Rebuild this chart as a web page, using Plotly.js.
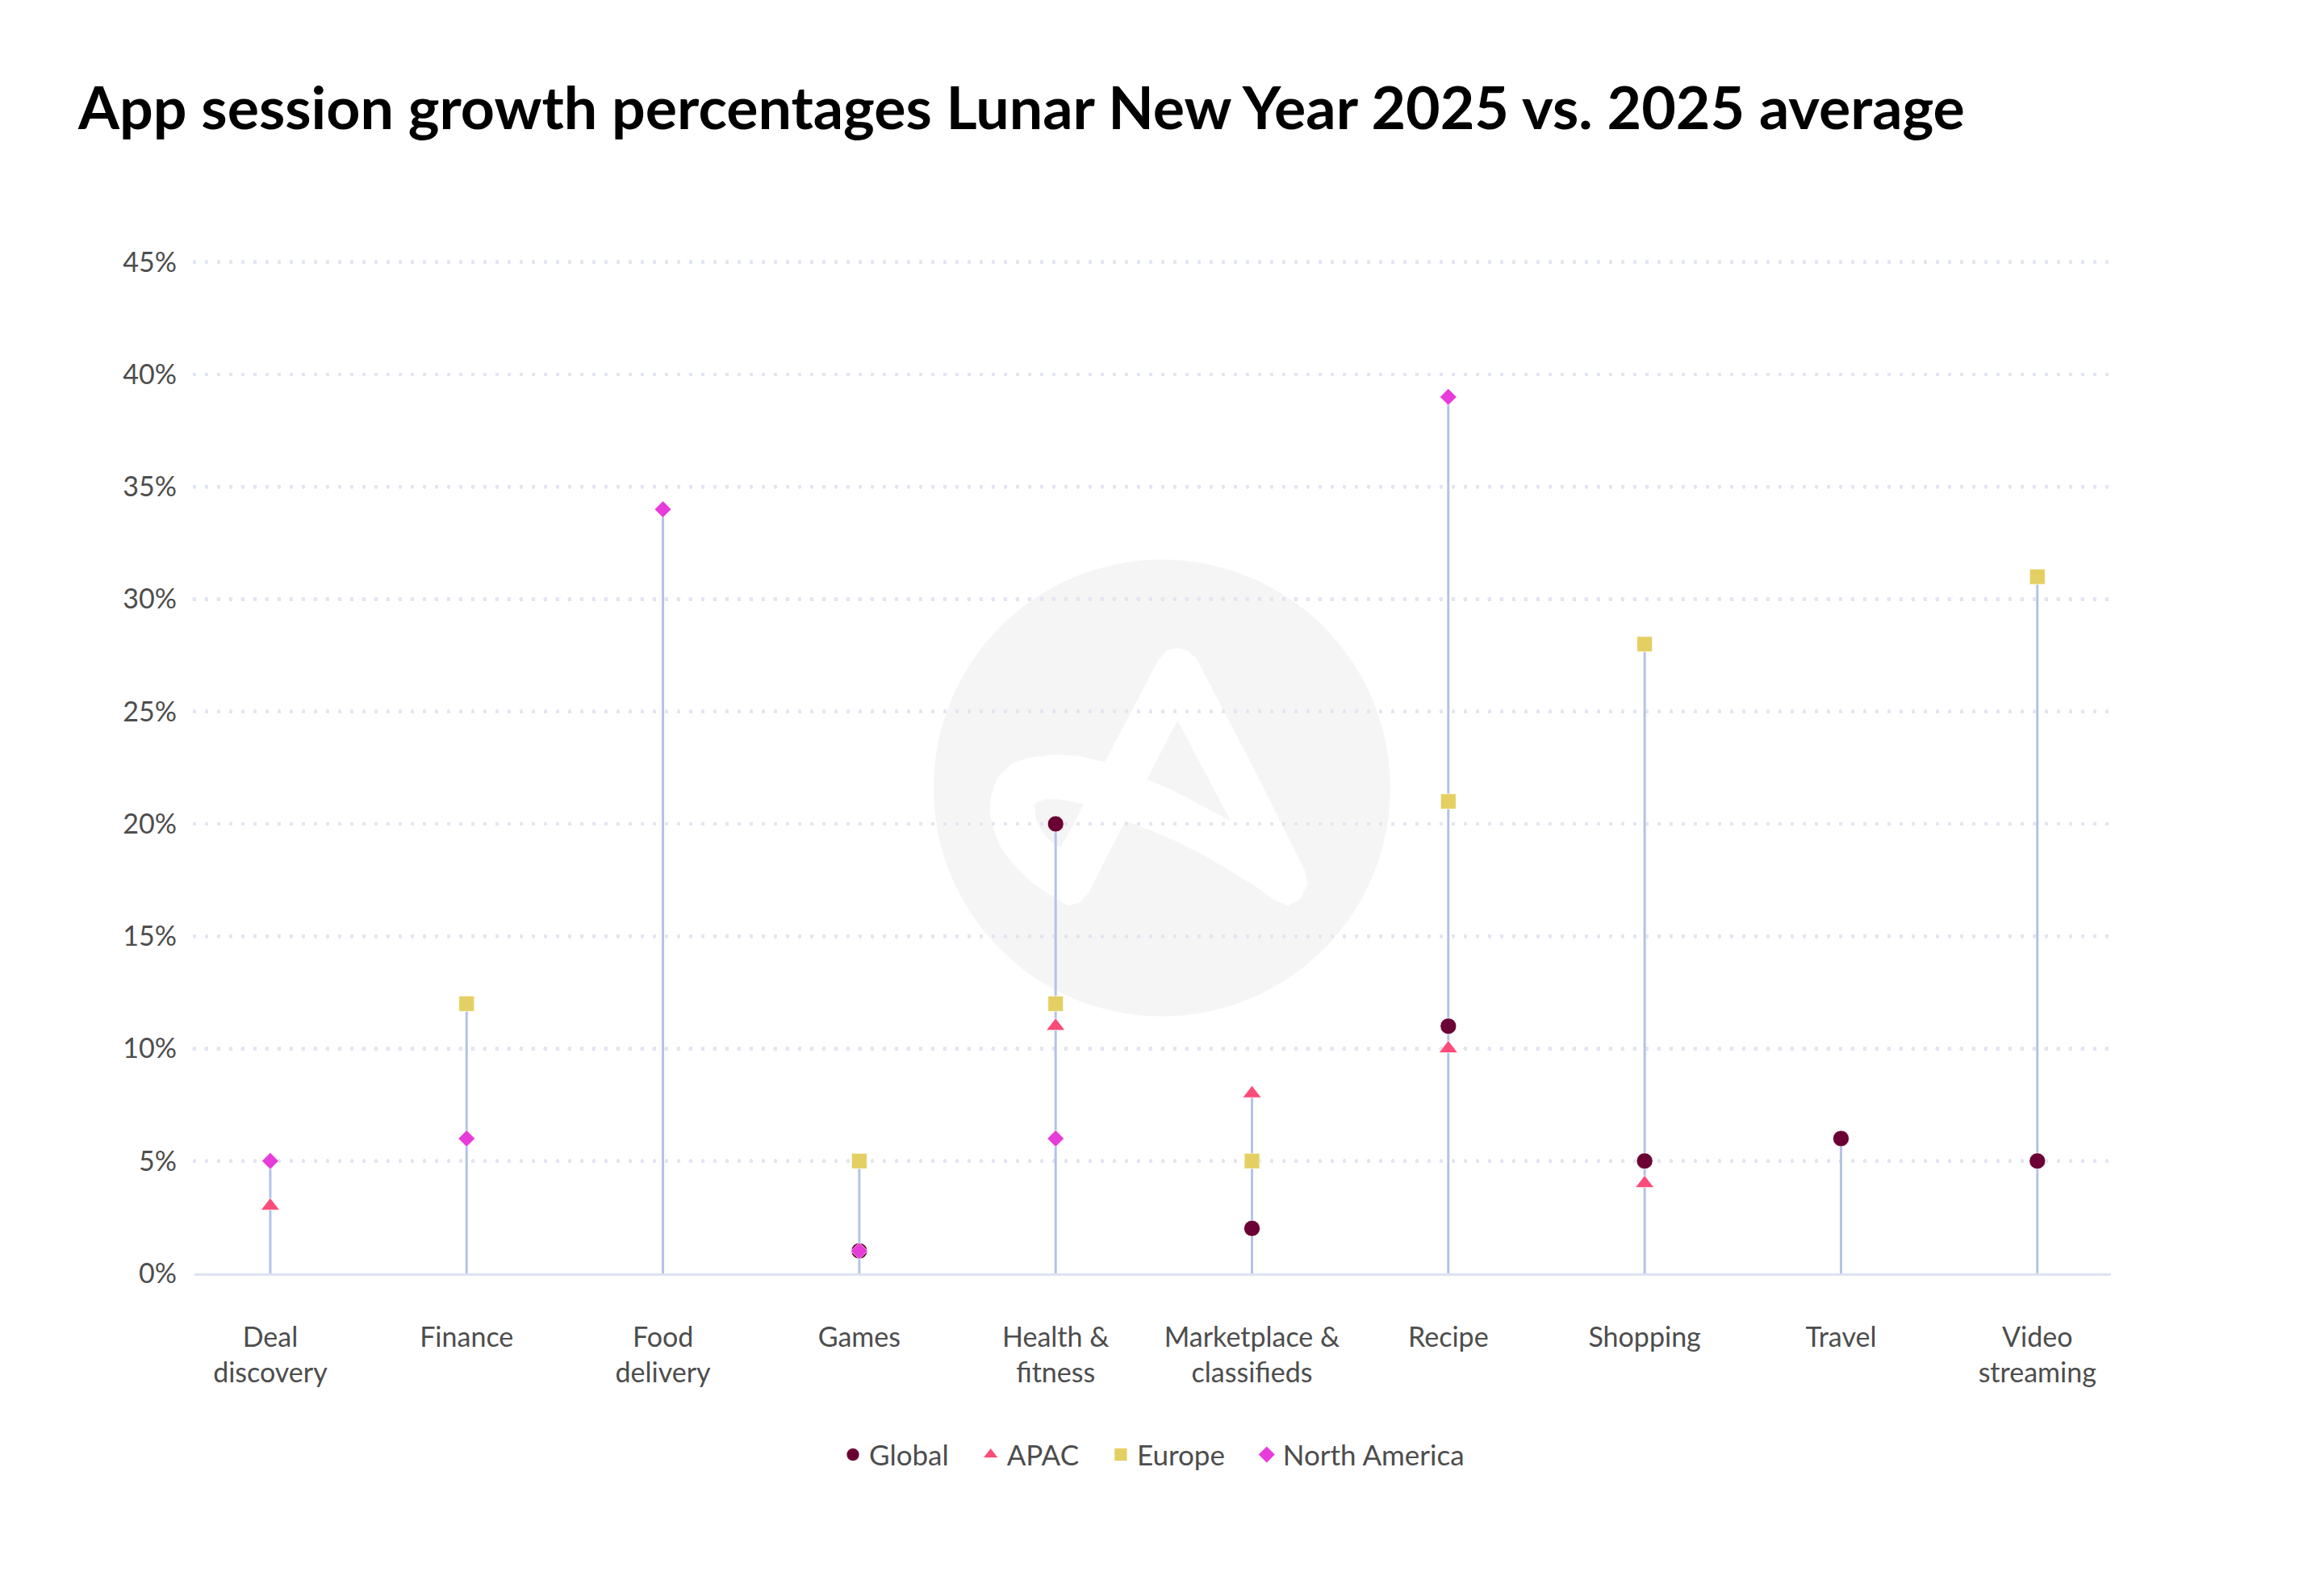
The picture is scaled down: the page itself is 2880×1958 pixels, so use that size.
<!DOCTYPE html>
<html>
<head>
<meta charset="utf-8">
<script src="https://cdn.plot.ly/plotly-3.0.1.min.js"></script>
<style>
  html, body { margin: 0; padding: 0; background: #ffffff; }
  #chart { width: 2880px; height: 1958px; }
  .gridlayer path { stroke-linecap: round; }
</style>
</head>
<body>
<div id="chart"></div>
<script>
// ---- Data ----
const categories = ['Deal discovery', 'Finance', 'Food delivery', 'Games', 'Health & fitness',
  'Marketplace & classifieds', 'Recipe', 'Shopping', 'Travel', 'Video streaming'];
const tickLabels = ['Deal<br>discovery', 'Finance', 'Food<br>delivery', 'Games', 'Health &<br>fitness',
  'Marketplace &<br>classifieds', 'Recipe', 'Shopping', 'Travel', 'Video<br>streaming'];
const seriesNames = ['Global', 'APAC', 'Europe', 'North America'];
const globalValues = [null, null, null, 1, 20, 2, 11, 5, 6, 5];
const apacValues = [3, null, null, null, 11, 8, 10, 4, null, null];
const europeValues = [null, 12, null, 5, 12, 5, 21, 28, null, 31];
const northAmericaValues = [5, 6, 34, 1, 6, null, 39, null, null, null];
const yTickValues = [0, 5, 10, 15, 20, 25, 30, 35, 40, 45];
const yTickLabels = ['0%', '5%', '10%', '15%', '20%', '25%', '30%', '35%', '40%', '45%'];

// ---- Styles ----
const FONT = 'Lato, "Open Sans", sans-serif';
const TEXT_COLOR = '#4d4d4d';
const COLORS = { global: '#6a0033', apac: '#fb4b78', europe: '#e4cf62', na: '#e73bda' };
const STEM_COLOR = '#b3c3e7';
const LEGEND_PAD = '\u00a0\u00a0\u00a0';

// stems: from 0 up to the highest value in each category
const seriesList = [globalValues, apacValues, europeValues, northAmericaValues];
const stemX = [], stemY = [];
categories.forEach((c, i) => {
  const vals = seriesList.map(s => s[i]).filter(v => v !== null);
  if (vals.length) {
    stemX.push(c, c, null);
    stemY.push(0, Math.max(...vals), null);
  }
});

const markerLine = { color: 'rgba(255,255,255,0.7)', width: 1 };
const traces = [
  { type: 'scatter', mode: 'lines', x: stemX, y: stemY, line: { color: STEM_COLOR, width: 3 },
    showlegend: false, hoverinfo: 'skip', connectgaps: false },
  { type: 'scatter', mode: 'markers', name: seriesNames[0] + LEGEND_PAD, x: categories, y: globalValues,
    marker: { symbol: 'circle', size: 20, color: COLORS.global, line: markerLine } },
  { type: 'scatter', mode: 'markers', name: seriesNames[1] + LEGEND_PAD, x: categories, y: apacValues,
    marker: { symbol: 'triangle-up', size: 20, color: COLORS.apac, line: markerLine } },
  { type: 'scatter', mode: 'markers', name: seriesNames[2] + LEGEND_PAD, x: categories, y: europeValues,
    marker: { symbol: 'square', size: 19, color: COLORS.europe, line: markerLine } },
  { type: 'scatter', mode: 'markers', name: seriesNames[3], x: categories, y: northAmericaValues,
    marker: { symbol: 'diamond', size: 16, color: COLORS.na, line: markerLine } }
];

// ---- Watermark logo (decoration, pixel offsets from circle centre) ----
const LOGO_SCALE = 2.613, LOGO_CX = 290, LOGO_CY = 298;
function toPath(pts) {
  return pts.map((p, k) => (k ? 'L' : 'M') + (p[0] / LOGO_SCALE - LOGO_CX).toFixed(1) + ',' +
    (LOGO_CY - p[1] / LOGO_SCALE).toFixed(1)).join(' ') + ' Z';
}
const logoOuter = [[745,365],[660,530],[572,695],[490,675],[410,670],[330,680],[270,700],[225,745],[205,800],[200,860],
  [215,920],[240,980],[285,1035],[330,1080],[380,1115],[420,1140],[455,1160],[490,1150],[520,1120],[580,1000],[640,885],
  [720,915],[800,950],[900,1000],[1000,1060],[1065,1100],[1120,1140],[1165,1160],[1205,1140],[1230,1090],[1220,1045],
  [1050,705],[870,360],[840,333],[808,325],[775,333]];
const logoLoopHole = [[345,830],[380,815],[420,815],[505,830],[470,900],[430,970],[400,955],[370,920],[350,880]];
const logoTriHole = [[808,560],[710,750],[800,790],[895,840],[980,885]];
const CX_PAPER = 0.5048, CY_PAPER = 0.4789, CIRCLE_R = 283;
const shapeBase = { xref: 'paper', yref: 'paper', xsizemode: 'pixel', ysizemode: 'pixel',
  xanchor: CX_PAPER, yanchor: CY_PAPER, layer: 'below' };
const shapes = [
  Object.assign({}, shapeBase, { type: 'circle', x0: -CIRCLE_R, x1: CIRCLE_R, y0: -CIRCLE_R, y1: CIRCLE_R,
    fillcolor: '#f5f5f5', line: { width: 0 } }),
  Object.assign({}, shapeBase, { type: 'path', path: toPath(logoOuter), fillcolor: '#ffffff', line: { width: 0 } }),
  Object.assign({}, shapeBase, { type: 'path', path: toPath(logoLoopHole), fillcolor: '#f5f5f5', line: { width: 0 } }),
  Object.assign({}, shapeBase, { type: 'path', path: toPath(logoTriHole), fillcolor: '#f5f5f5', line: { width: 0 } })
];

const layout = {
  width: 2880, height: 1958,
  paper_bgcolor: '#ffffff', plot_bgcolor: 'rgba(0,0,0,0)',
  margin: { l: 241, r: 264, t: 322, b: 380, pad: 0 },
  font: { family: FONT, color: TEXT_COLOR, size: 34 },
  title: { text: 'App session growth percentages Lunar New Year 2025 vs. 2025 average',
    font: { family: FONT, size: 73.5, color: '#000000', weight: 'bold' },
    x: 97 / 2880, xref: 'container', xanchor: 'left', y: 1 - 134 / 1958, yref: 'container', yanchor: 'middle' },
  xaxis: {
    type: 'category', categoryorder: 'array', categoryarray: categories,
    tickvals: categories, ticktext: tickLabels,
    range: [-0.386, 9.375], showgrid: false, zeroline: false,
    showline: true, linecolor: '#dce2f0', linewidth: 3,
    ticks: '', ticklabelstandoff: 47,
    tickfont: { family: FONT, size: 34, color: TEXT_COLOR }
  },
  yaxis: {
    range: [0, 45.1], tickvals: yTickValues, ticktext: yTickLabels,
    showgrid: true, gridcolor: '#e2e6f1', gridwidth: 5, griddash: '0px,15px',
    zeroline: false, showline: false, ticks: '', ticklabelstandoff: 21,
    tickfont: { family: FONT, size: 34, color: TEXT_COLOR }
  },
  showlegend: true,
  legend: { orientation: 'h', x: 0.5, xanchor: 'center', y: -0.179, yanchor: 'middle',
    font: { family: FONT, size: 35, color: TEXT_COLOR }, itemclick: false, itemdoubleclick: false },
  shapes: shapes,
  hovermode: false
};

Plotly.newPlot('chart', traces, layout, { displayModeBar: false, staticPlot: true });
</script>
</body>
</html>
